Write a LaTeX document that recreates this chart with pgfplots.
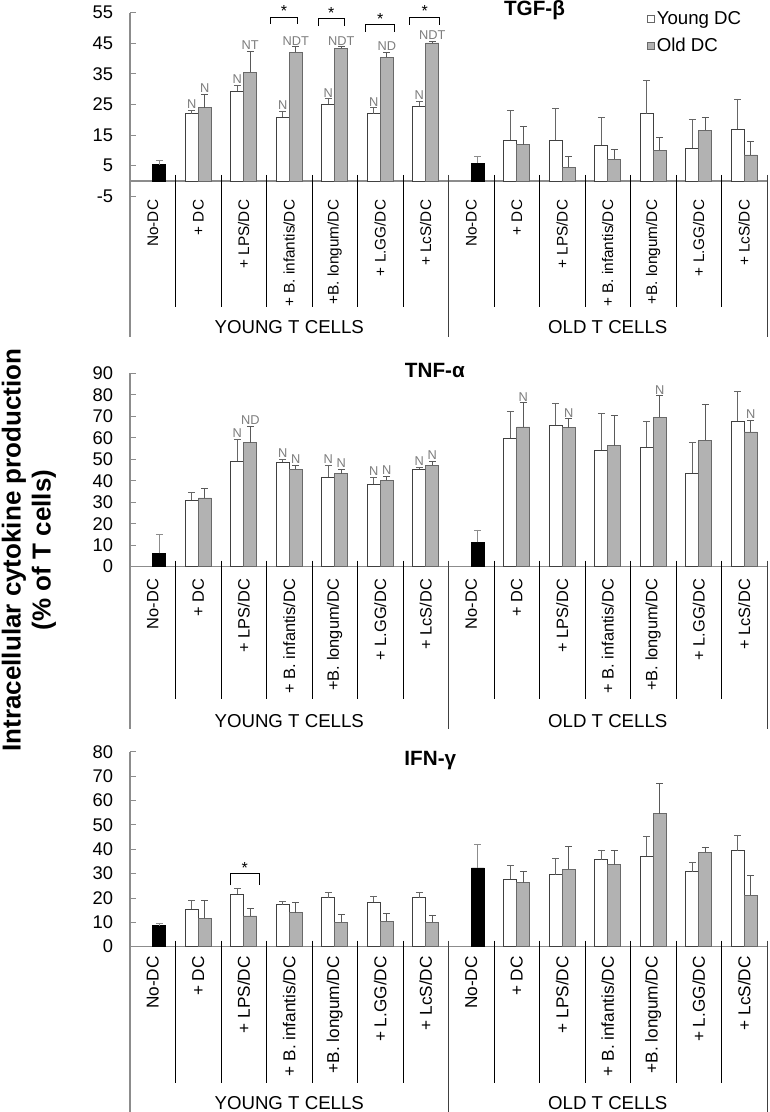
\documentclass[border=0pt]{standalone}
\usepackage{fontspec}
\setmainfont{Liberation Sans}
\usepackage{pgfplots}
\pgfplotsset{compat=1.18}
\usepackage{pgfplotstable}
\definecolor{axisgray}{RGB}{140,140,140}
\definecolor{barfill}{RGB}{178,178,178}
\definecolor{bardraw}{RGB}{105,105,105}
\definecolor{anngray}{RGB}{125,125,125}
\newcommand\tickfont{\fontsize{13.75}{16}\selectfont}
\newcommand\grpfont{\fontsize{14}{16}\selectfont}
\newcommand\legfont{\fontsize{14}{16}\selectfont}
\newcommand\ttlfont{\fontsize{15.5}{18}\selectfont\bfseries}
\newcommand\annfont{\fontsize{9.6}{11}\selectfont}
\newcommand\ann[3]{\node[font=\annfont, text=anngray, anchor=south, inner sep=1pt] at (axis cs:#1,#2) {#3};}
\newcommand\brk[5]{\draw[black, line width=0.8pt] (axis cs:#1,#4) -- (axis cs:#1,#3) -- (axis cs:#2,#3) -- (axis cs:#2,#4);
  \node[font=\fontsize{12}{14}\selectfont, anchor=south, inner sep=0pt] at (axis cs:#5,#3) {*};}

% ---------- data (x = category index -/+ half a bar) ----------
\pgfplotstableread{
x y e
0.857 22.0 1.1
1.857 29.3 2.0
2.857 20.8 2.0
3.857 25.1 1.8
4.857 22.0 1.9
5.857 24.4 1.6
7.857 13.4 9.7
8.857 13.4 10.2
9.857 11.6 9.3
10.857 22.0 10.9
11.857 10.8 9.4
12.857 16.9 9.9
}\tgfY
\pgfplotstableread{
x y e
1.143 23.9 4.5
2.143 35.5 6.9
3.143 42.0 1.9
4.143 43.4 0.5
5.143 40.4 1.6
6.143 45.1 0.5
8.143 11.9 6.0
9.143 4.5 3.4
10.143 7.1 3.1
11.143 10.0 4.3
12.143 16.6 4.3
13.143 8.5 4.5
}\tgfO
\pgfplotstableread{
x y e
0.143 5.3 1.5
7.143 5.8 2.3
}\tgfN
\pgfplotstableread{
x y e
0.857 30.9 3.7
1.857 49.0 10.3
2.857 48.7 1.3
3.857 41.7 5.5
4.857 38.3 3.4
5.857 45.3 1.1
7.857 59.9 12.3
8.857 65.8 10.2
9.857 54.2 16.9
10.857 55.6 11.9
11.857 43.5 14.5
12.857 67.7 13.8
}\tnfY
\pgfplotstableread{
x y e
1.143 32.0 4.3
2.143 57.7 7.6
3.143 45.3 1.9
4.143 43.3 2.0
5.143 40.2 1.9
6.143 47.2 1.8
8.143 65.0 11.3
9.143 64.6 4.3
10.143 56.3 14.2
11.143 69.5 10.0
12.143 58.8 16.5
13.143 62.7 5.3
}\tnfO
\pgfplotstableread{
x y e
0.143 6.2 9.0
7.143 11.3 5.8
}\tnfN
\pgfplotstableread{
x y e
0.857 15.3 3.7
1.857 21.6 2.3
2.857 17.3 1.3
3.857 20.1 2.0
4.857 18.3 2.3
5.857 20.1 2.0
7.857 27.6 5.7
8.857 29.6 6.8
9.857 35.7 4.0
10.857 37.1 8.1
11.857 30.8 3.9
12.857 39.3 6.4
}\ifnY
\pgfplotstableread{
x y e
1.143 11.6 7.4
2.143 12.6 3.0
3.143 13.9 4.1
4.143 10.1 3.1
5.143 10.4 3.2
6.143 10.1 2.9
8.143 26.3 4.5
9.143 31.7 9.6
10.143 33.7 5.6
11.143 54.6 12.2
12.143 38.7 2.2
13.143 21.0 8.1
}\ifnO
\pgfplotstableread{
x y e
0.143 8.6 1.1
7.143 32.3 9.7
}\ifnN

\pgfplotsset{
  panel/.style={
    scale only axis, width=477.75pt, xmin=-0.5, xmax=13.5,
    axis lines=left, axis line style={draw=none},
    clip=false,
    xtick={0,...,13},
    xticklabels={No-DC,+ DC,+ LPS/DC,+ B. infantis/DC,+B. longum/DC,+ L.GG/DC,+ LcS/DC,No-DC,+ DC,+ LPS/DC,+ B. infantis/DC,+B. longum/DC,+ L.GG/DC,+ LcS/DC},
    x tick label style={rotate=90, anchor=east, inner sep=0pt},
    major x tick style={draw=none},
    tick align=inside,
    major tick length=4.8pt,
    y tick style={draw=axisgray, line width=0.6pt},
    y tick label style={font=\tickfont, inner sep=0pt, xshift=-12.5pt},
    /pgf/number format/assume math mode=true,
  },
  ebar/.style={error bars/.cd, y dir=plus, y explicit,
    error bar style={#1, line width=0.6pt},
    error mark options={rotate=90, #1, mark size=2.6pt, line width=0.6pt}},
  youngbar/.style={ybar, bar width=0.286, bar shift=0, fill=white, draw=black!75, line width=0.6pt,
    legend image code/.code={\draw[fill=white, draw=black!60, line width=0.5pt] (0pt,-2.7pt) rectangle (5.4pt,2.7pt);},
    ebar=black!60},
  oldbar/.style={ybar, bar width=0.286, bar shift=0, fill=barfill, draw=bardraw, line width=0.6pt,
    legend image code/.code={\draw[fill=barfill, draw=bardraw, line width=0.5pt] (0pt,-2.7pt) rectangle (5.4pt,2.7pt);},
    ebar=black!65},
  nodcbar/.style={forget plot, ybar, bar width=0.286, bar shift=0, fill=black, draw=black, line width=0.6pt,
    ebar=black!45},
}

\newcommand\panelframe[4]{% #1 ymax, #2 short len, #3 long len, #4 group label offset
  \draw[axisgray, line width=0.8pt] (axis cs:-0.5,#1) -- ([yshift=-#3]axis cs:-0.5,0);
  \draw[axisgray, line width=0.8pt] (axis cs:-0.5,0) -- (axis cs:13.5,0);
  \pgfplotsinvokeforeach{0.5,1.5,2.5,3.5,4.5,5.5,7.5,8.5,9.5,10.5,11.5,12.5}{
    \draw[black, line width=0.6pt] ([yshift=4.5pt]axis cs:##1,0) -- ([yshift=-#2]axis cs:##1,0);}
  \draw[black!75, line width=0.7pt] ([yshift=4.5pt]axis cs:6.5,0) -- ([yshift=-#3]axis cs:6.5,0);
  \draw[black!75, line width=0.7pt] ([yshift=4.5pt]axis cs:13.5,0) -- ([yshift=-#3]axis cs:13.5,0);
  \node[font=\grpfont] at ([yshift=-#4]axis cs:3,0) {YOUNG T CELLS};
  \node[font=\grpfont] at ([yshift=-#4]axis cs:10,0) {OLD T CELLS};
}

\begin{document}
\begin{tikzpicture}
\path[use as bounding box] (0,0) rectangle (576.75pt,-834pt);

% ---------------- TGF-beta ----------------
\begin{axis}[panel, at={(97.5pt,-147.2pt)}, anchor=south west, height=137.7pt,
  ymin=-5, ymax=55, ytick={-5,5,15,25,35,45,55},
  x tick label style={font=\fontsize{11.5}{13}\selectfont},
  xticklabel shift=2.5pt,
  legend style={draw=none, fill=none, font=\legfont, at={(0.811,1.02)}, anchor=north west,
    inner sep=0pt, row sep=6pt, nodes={inner sep=1.5pt}},
  legend cell align=left]
\panelframe{55}{94.5pt}{117pt}{109.5pt}
\addplot[youngbar] table[x=x,y=y,y error=e]{\tgfY};
\addplot[oldbar] table[x=x,y=y,y error=e]{\tgfO};
\addplot[nodcbar] table[x=x,y=y,y error=e]{\tgfN};
\legend{Young DC, Old DC}
\ann{0.857}{23.1}{N}\ann{1.857}{31.3}{N}\ann{2.857}{22.8}{N}
\ann{3.857}{26.9}{N}\ann{4.857}{23.9}{N}\ann{5.857}{26.0}{N}
\ann{1.143}{28.4}{N}\ann{2.143}{42.4}{NT}\ann{3.143}{43.9}{NDT}
\ann{4.143}{43.9}{NDT}\ann{5.143}{42.0}{ND}\ann{6.143}{45.6}{NDT}
\brk{2.58}{3.19}{53.5}{51.3}{2.885}
\brk{3.64}{4.21}{53.1}{50.6}{3.925}
\brk{4.68}{5.32}{51.2}{48.7}{5.0}
\brk{5.65}{6.30}{53.5}{51.0}{5.975}
\node[font=\ttlfont, anchor=base, inner sep=0pt] at ([yshift=-2pt]axis cs:8.39,55) {TGF-β};
\end{axis}

% ---------------- TNF-alpha ----------------
\begin{axis}[panel, at={(97.5pt,-425.0pt)}, anchor=south west, height=145.05pt,
  ymin=0, ymax=90, ytick={0,10,...,90},
  x tick label style={font=\fontsize{12.3}{14}\selectfont},
  xticklabel shift=9pt]
\panelframe{90}{99pt}{121.5pt}{115.5pt}
\addplot[youngbar] table[x=x,y=y,y error=e]{\tnfY};
\addplot[oldbar] table[x=x,y=y,y error=e]{\tnfO};
\addplot[nodcbar] table[x=x,y=y,y error=e]{\tnfN};
\ann{1.857}{59.3}{N}\ann{2.857}{50.0}{N}\ann{3.857}{47.2}{N}
\ann{4.857}{41.7}{N}\ann{5.857}{46.4}{N}
\ann{2.143}{65.3}{ND}\ann{3.143}{47.2}{N}\ann{4.143}{45.3}{N}
\ann{5.143}{42.1}{N}\ann{6.143}{49.0}{N}
\ann{8.143}{76.3}{N}\ann{9.143}{68.9}{N}\ann{11.143}{79.5}{N}\ann{13.143}{68.0}{N}
\node[font=\ttlfont, anchor=base, inner sep=0pt] at ([yshift=-3.5pt]axis cs:6.2,90) {TNF-α};
\end{axis}

% ---------------- IFN-gamma ----------------
\begin{axis}[panel, at={(97.5pt,-710.0pt)}, anchor=south west, height=146.25pt,
  ymin=0, ymax=80, ytick={0,10,...,80},
  x tick label style={font=\fontsize{12.9}{15}\selectfont},
  xticklabel shift=7pt]
\panelframe{80}{102pt}{124pt}{117pt}
\addplot[youngbar] table[x=x,y=y,y error=e]{\ifnY};
\addplot[oldbar] table[x=x,y=y,y error=e]{\ifnO};
\addplot[nodcbar] table[x=x,y=y,y error=e]{\ifnN};
\brk{1.70}{2.34}{30.0}{25.2}{2.02}
\node[font=\ttlfont, anchor=base, inner sep=0pt] at ([yshift=-10.5pt]axis cs:6.1,80) {IFN-γ};
\end{axis}

\node[rotate=90, align=center, inner sep=0pt, font=\fontsize{19.5}{22.5}\selectfont\bfseries] at (21.75pt,-412.5pt)
  {Intracellular cytokine production\\(\% of T cells)};
\end{tikzpicture}
\end{document}
